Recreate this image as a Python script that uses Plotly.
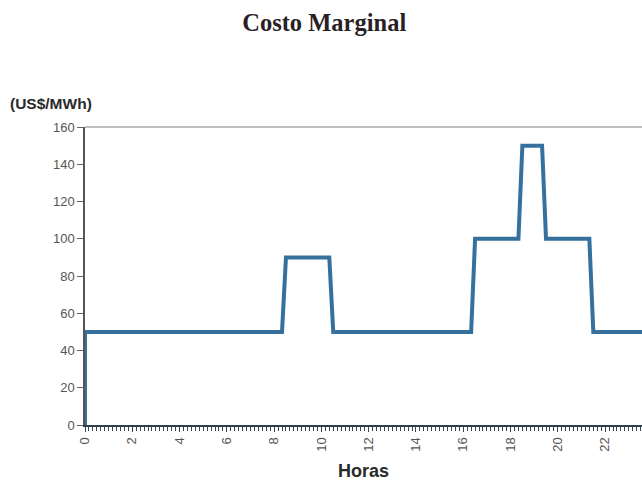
import plotly.graph_objects as go

# Data (hours, marginal cost US$/MWh)
horas = [0, 0, 8.333, 8.5, 10.333, 10.5, 16.333, 16.5, 18.333, 18.5, 19.333, 19.5, 21.333, 21.5, 24]
costo = [0, 50, 50, 90, 90, 50, 50, 100, 100, 150, 150, 100, 100, 50, 50]

x_tick_vals = [0, 2, 4, 6, 8, 10, 12, 14, 16, 18, 20, 22]
x_tick_text = [str(v) for v in x_tick_vals]
y_tick_vals = [0, 20, 40, 60, 80, 100, 120, 140, 160]

fig = go.Figure()
fig.add_trace(go.Scatter(
    x=horas, y=costo, mode="lines",
    line=dict(color="#36709c", width=4),
    hoverinfo="skip", showlegend=False,
))

fig.update_layout(
    width=642, height=481,
    margin=dict(l=85, r=0, t=127, b=56),
    paper_bgcolor="white", plot_bgcolor="white",
    title=dict(text="<b>Costo Marginal</b>", x=0.505, xanchor="center", y=0.953, yanchor="middle",
               font=dict(family="Liberation Serif", size=24.5, color="#2a1f26")),
    font=dict(family="Liberation Sans, Arial", color="#444"),
)

fig.update_xaxes(
    range=[0, 23.56], showgrid=False, zeroline=False,
    showline=True, linecolor="#2c3e50", linewidth=2,
    tickmode="array", tickvals=x_tick_vals, ticktext=x_tick_text,
    tickangle=-90, ticks="outside", ticklen=5, tickcolor="#3a4650", tickwidth=1,
    tickfont=dict(size=13, color="#555"),
    minor=dict(dtick=1/6, tick0=0, ticks="outside", ticklen=4, tickcolor="#3a4650", tickwidth=1),
)
fig.update_yaxes(
    range=[0, 160], showgrid=False, zeroline=False,
    showline=True, linecolor="#555", linewidth=1.5,
    tickmode="array", tickvals=y_tick_vals,
    ticks="outside", ticklen=6, tickcolor="#666",
    tickfont=dict(size=13, color="#555"),
)

# top border of plot area
fig.add_shape(type="line", xref="paper", yref="paper", x0=0, x1=1, y0=1, y1=1,
              line=dict(color="#aaa", width=1.5))

fig.add_annotation(text="<b>(US$/MWh)</b>", xref="paper", yref="paper",
                   x=-0.139, y=1.08, xanchor="left", yanchor="middle", showarrow=False,
                   font=dict(family="Liberation Sans, Arial", size=15.5, color="#2a2a2a"))
fig.add_annotation(text="<b>Horas</b>", xref="paper", yref="paper",
                   x=0.5, y=-0.153, xanchor="center", yanchor="middle", showarrow=False,
                   font=dict(family="Liberation Sans, Arial", size=18, color="#2a2a2a"))

fig.write_html("out.html")
